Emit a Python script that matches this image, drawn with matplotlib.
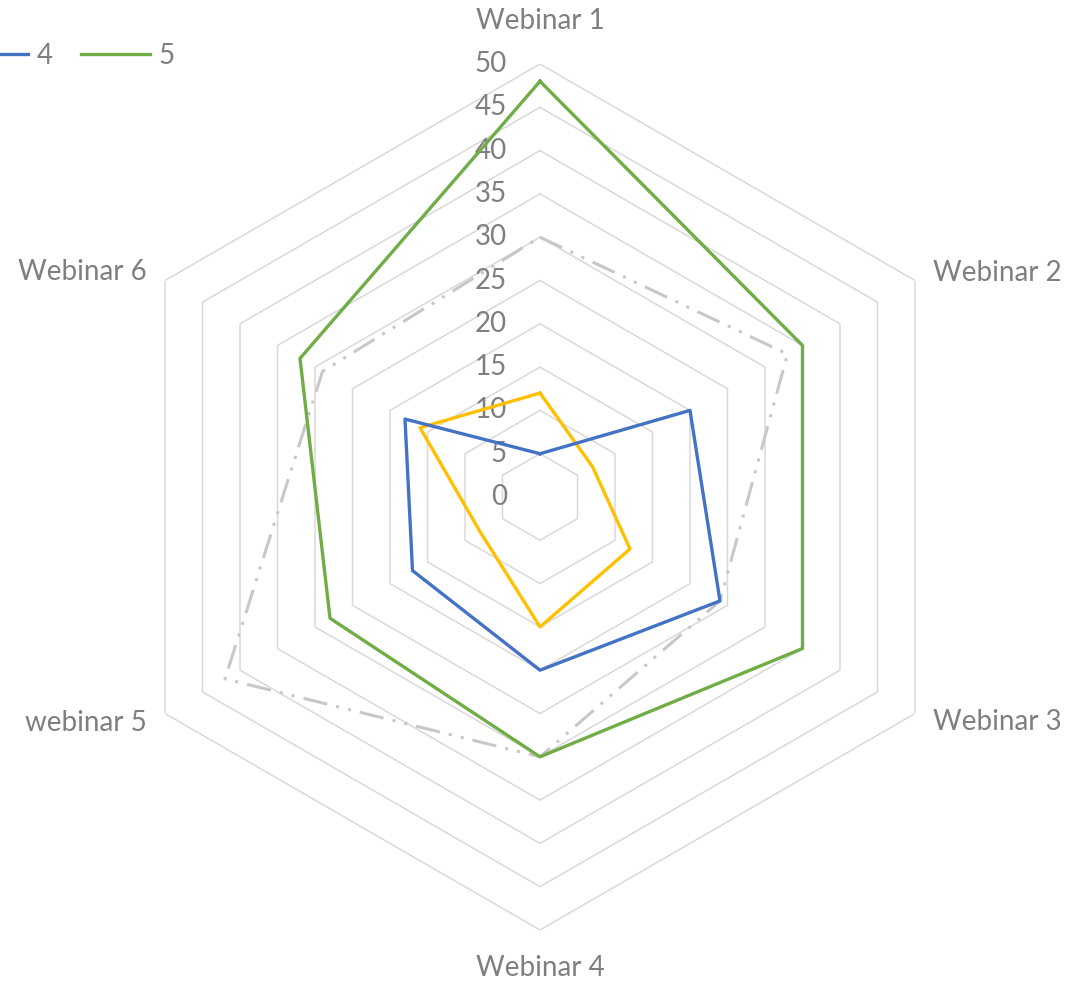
import numpy as np
import matplotlib
matplotlib.use("Agg")
import matplotlib.pyplot as plt
from matplotlib.lines import Line2D

# data
categories = ["Webinar 1", "Webinar 2", "Webinar 3", "Webinar 4", "webinar 5", "Webinar 6"]
series_2 = [30, 33, 24, 30, 42, 29]
series_3 = [12, 7, 12, 15, 8, 16]
series_4 = [5, 20, 24, 20, 17, 18]
series_5 = [48, 35, 35, 30, 28, 32]
levels = [0, 5, 10, 15, 20, 25, 30, 35, 40, 45, 50]

plt.rcParams["font.family"] = ["Lato", "DejaVu Sans"]
text_col = "#7f7f7f"
grid_col = "#d9d9d9"
fs = 20

W, H = 1068, 982
fig = plt.figure(figsize=(W / 100, H / 100), dpi=100)
# center at (540, 497) px, r=50 -> 433 px
ax = fig.add_axes([(540 - 433) / W, (H - 497 - 433) / H, 866 / W, 866 / H], projection="polar")
ax.set_theta_offset(np.pi / 2)
ax.set_theta_direction(-1)
ax.set_ylim(0, 50)
ax.set_xticks([])
ax.set_yticks([])
ax.grid(False)
ax.spines["polar"].set_visible(False)
ax.set_facecolor("none")

n = len(categories)
theta = np.arange(n) * 2 * np.pi / n
theta_c = np.append(theta, theta[0])

def closed(v):
    return np.append(v, v[0])

# hexagon grid
for lv in levels[1:]:
    ax.plot(theta_c, [lv] * (n + 1), color=grid_col, lw=1.1, zorder=1)

# radial labels
for lv in levels:
    ax.annotate(str(lv), xy=(0, lv), xytext=(-33, 0), textcoords="offset pixels",
                ha="right", va="center", fontsize=fs, color=text_col, zorder=2)

# category labels
offsets = [(0, 43, "center"), (18, 8, "left"), (18, -9, "left"),
           (0, -38, "center"), (-18, -9, "right"), (-18, 8, "right")]
for t, lab, (dx, dy, ha) in zip(theta, categories, offsets):
    ax.annotate(lab, xy=(t, 50), xytext=(dx, dy), textcoords="offset pixels",
                ha=ha, va="center", fontsize=fs, color=text_col)

# series
ax.plot(theta_c, closed(series_2), color="#c8c8c8", lw=2.2,
        dashes=(8, 3, 1, 3, 1, 3), zorder=3)
ax.plot(theta_c, closed(series_3), color="#ffc000", lw=2.4, zorder=4)
ax.plot(theta_c, closed(series_4), color="#4472c4", lw=2.4, zorder=5)
ax.plot(theta_c, closed(series_5), color="#70ad47", lw=2.4, zorder=6)

# legend (partly cut at left edge, as in the original)
handles = [Line2D([], [], color="#4472c4", lw=2.4), Line2D([], [], color="#70ad47", lw=2.4)]
fig.legend(handles, ["4", "5"], loc="center left", bbox_to_anchor=(-41 / W, 1 - 56 / H),
           ncol=2, frameon=False, fontsize=fs, labelcolor=text_col,
           handlelength=2.5, handletextpad=0.3, columnspacing=1.0,
           borderpad=0, borderaxespad=0)

fig.savefig("out.png", dpi=100)
